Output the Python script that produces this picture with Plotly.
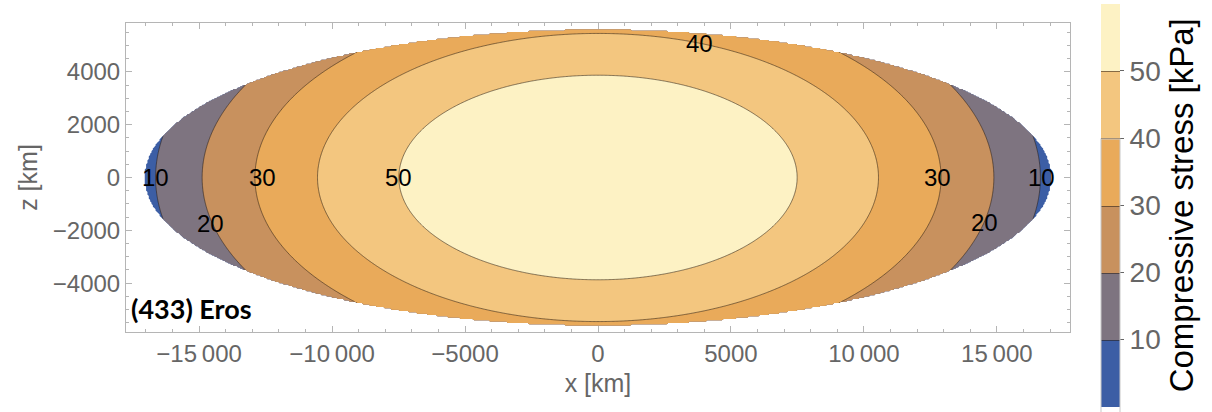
import numpy as np
import plotly.graph_objects as go

# Contour levels of compressive stress [kPa] and where each contour crosses z = 0 [km]
levels = [10, 20, 30, 40, 50]
x_cross = [16600, 14920, 12930, 10565, 7430]
# Highest point (x = 0) of the contours that stay inside the body
top_levels = [40, 50]
z_top = [5460, 3845]

# Body outline: semi-axes of the elliptical cross-section [km]
semi_x = 17070
semi_z = 5615

# Axis ticks
x_tickvals = [-15000, -10000, -5000, 0, 5000, 10000, 15000]
x_ticktext = ["\u221215\u2009000", "\u221210\u2009000", "\u22125000", "0", "5000", "10\u2009000", "15\u2009000"]
z_tickvals = [-4000, -2000, 0, 2000, 4000]
z_ticktext = ["\u22124000", "\u22122000", "0", "2000", "4000"]

# Inline contour labels
label_x = [-16650, -12630, -7520, -14590, 3830, 12780, 16690, 14550]
label_z = [0, 0, 0, -1760, 5060, 0, 0, -1720]
label_text = ["10", "30", "50", "20", "40", "30", "10", "20"]

# Band colours from low to high stress
band_colors = ["#3c5ea5", "#7e7480", "#c8915e", "#e9aa5a", "#f3c67f", "#fdf2c4"]

# Elliptic stress field: contours share one aspect ratio, stress falls off with rho^2
aspect = float(np.mean(np.array(x_cross)[[levels.index(l) for l in top_levels]] / np.array(z_top)))
coef = np.polyfit(np.array(x_cross, dtype=float) ** 2, np.array(levels, dtype=float), 1)

xs = np.linspace(-17750, 17750, 701)
zs = np.linspace(-5850, 5850, 235)
X, Z = np.meshgrid(xs, zs)
stress = np.polyval(coef, X ** 2 + (aspect * Z) ** 2)
stress[(X / semi_x) ** 2 + (Z / semi_z) ** 2 > 1] = np.nan

# Stepped colourscale so each band between levels has one flat colour
n = len(band_colors)
colorscale = [[0.0, band_colors[0]], [0.001, band_colors[1]]]
for i in range(1, n - 1):
    lo = (i - 1) / (n - 2)
    hi = i / (n - 2)
    colorscale.append([max(lo, 0.001), band_colors[i]])
    colorscale.append([min(hi, 0.999) if i == n - 2 else hi - 0.001, band_colors[i]])
    if i < n - 2:
        colorscale.append([hi, band_colors[i + 1]])
colorscale.append([1.0, band_colors[-1]])
colorscale = sorted(colorscale, key=lambda s: s[0])

gray = "#666666"
frame = "#b5b5b5"
font_family = "Liberation Sans, Arial, sans-serif"

fig = go.Figure()
fig.add_trace(go.Contour(
    x=xs, y=zs, z=stress,
    zmin=0, zmax=60,
    connectgaps=False,
    colorscale=colorscale,
    contours=dict(start=levels[0], end=levels[-1], size=10, coloring="fill", showlines=True),
    line=dict(color="rgba(40,30,20,0.55)", width=1),
    hoverinfo="skip",
    colorbar=dict(
        xref="container", x=1091 / 1212, xanchor="left",
        yref="container", y=1 - 5 / 412, yanchor="top",
        lenmode="pixels", len=403, thickness=19, ypad=0,
        outlinecolor="#c8c8c8", outlinewidth=1,
        tickvals=levels, ticks="outside", ticklen=4, tickcolor=gray,
        tickfont=dict(size=28, color=gray, family=font_family),
        title=dict(text="Compressive stress [kPa]", side="right",
                   font=dict(size=33, color="black", family=font_family)),
    ),
))

for tx, tz, tt in zip(label_x, label_z, label_text):
    fig.add_annotation(x=tx, y=tz, text=tt, showarrow=False,
                       font=dict(size=24, color="black", family=font_family),
                       xanchor="center", yanchor="middle")

fig.add_annotation(xref="paper", yref="paper", x=0.003, y=0.075, text="<b>(433) Eros</b>",
                   showarrow=False, xanchor="left", yanchor="middle",
                   font=dict(size=27, color="black", family="Lato, sans-serif"))

axis_common = dict(
    showline=True, linecolor=frame, linewidth=1, mirror="allticks",
    ticks="inside", ticklen=6, tickcolor=frame,
    showgrid=False, zeroline=False,
    tickfont=dict(size=24, color=gray, family=font_family),
)

fig.update_xaxes(
    range=[-17750, 17750], tickvals=x_tickvals, ticktext=x_ticktext,
    minor=dict(ticks="inside", dtick=1000, tick0=0, ticklen=3, tickcolor=frame, showgrid=False),
    title=dict(text="x [km]", font=dict(size=25, color=gray, family=font_family), standoff=8),
    **axis_common,
)
fig.update_yaxes(
    range=[-5850, 5850], tickvals=z_tickvals, ticktext=z_ticktext,
    minor=dict(ticks="inside", dtick=500, tick0=0, ticklen=3, tickcolor=frame, showgrid=False),
    title=dict(text="z [km]", font=dict(size=25, color=gray, family=font_family), standoff=8),
    **axis_common,
)

fig.update_layout(
    width=1212, height=412,
    margin=dict(l=126, r=142, t=23, b=80),
    paper_bgcolor="white", plot_bgcolor="white",
    showlegend=False,
)

fig.write_html("out.html")
